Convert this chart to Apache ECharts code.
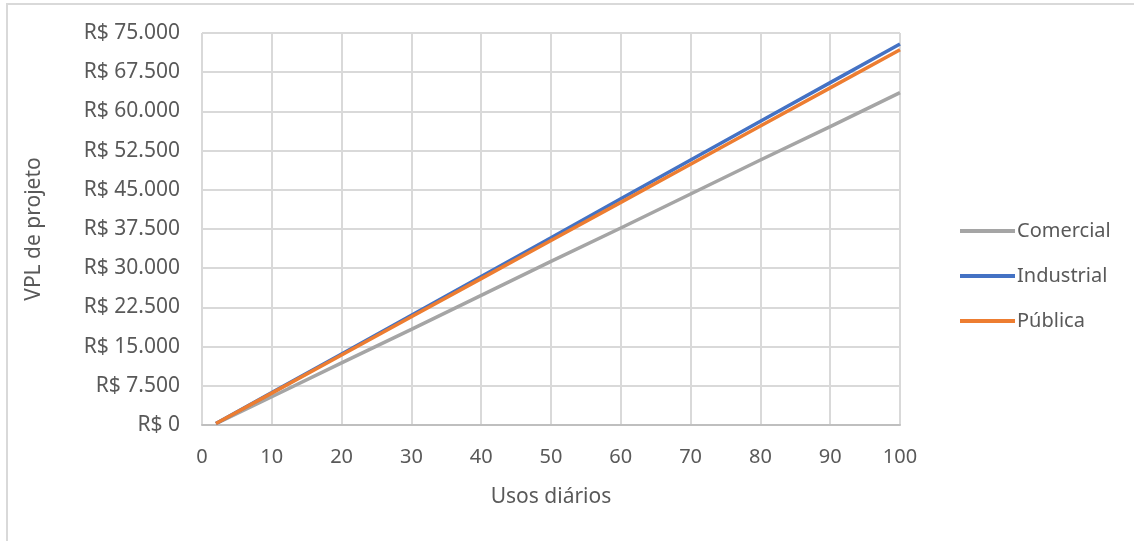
<!DOCTYPE html>
<html>
<head>
<meta charset="utf-8">
<script src="https://cdn.jsdelivr.net/npm/echarts@6/dist/echarts.min.js"></script>
<style>
  html, body { margin: 0; padding: 0; background: #fff; }
  #chart { width: 1134px; height: 541px; }
</style>
</head>
<body>
<div id="chart"></div>
<script>
// Daily uses (x) and project NPV in R$ (y) for each segment
const usos = [2, 10, 20, 30, 40, 50, 60, 70, 80, 90, 100];
const comercial  = [250, 5400, 11900, 18300, 24800, 31300, 37700, 44200, 50700, 57100, 63600];
const industrial = [300, 6200, 13600, 21000, 28400, 35800, 43300, 50700, 58100, 65500, 72900];
const publica    = [300, 6100, 13400, 20700, 28000, 35300, 42600, 49900, 57200, 64500, 71800];
const seriesNames = ['Comercial', 'Industrial', 'Pública'];
const seriesColors = ['#A5A5A5', '#4472C4', '#ED7D31'];

const FONT = 'Noto Sans';
const TEXT = '#595959';

function brl(v) {
  return 'R$ ' + String(v).replace(/\B(?=(\d{3})+(?!\d))/g, '.');
}

function pairs(ys) { return usos.map((x, i) => [x, ys[i]]); }

const chart = echarts.init(document.getElementById('chart'), null, { renderer: 'canvas' });
chart.setOption({
  animation: false,
  backgroundColor: '#fff',
  textStyle: { fontFamily: FONT },
  graphic: [{
    type: 'rect',
    shape: { x: 7, y: 4, width: 1200, height: 600 },
    style: { fill: 'none', stroke: '#D9D9D9', lineWidth: 2 },
    silent: true
  }],
  grid: { left: 202, right: 234, top: 33, bottom: 116, containLabel: false },
  xAxis: {
    type: 'value', min: 0, max: 100, interval: 10,
    name: 'Usos diários', nameLocation: 'middle', nameGap: 62,
    nameTextStyle: { color: TEXT, fontSize: 21, fontFamily: FONT },
    axisLine: { show: true, lineStyle: { color: '#BFBFBF', width: 2 } },
    axisTick: { show: false },
    axisLabel: { color: TEXT, fontSize: 20, fontFamily: FONT, margin: 22 },
    splitLine: { show: true, lineStyle: { color: '#D9D9D9', width: 2 } }
  },
  yAxis: {
    type: 'value', min: 0, max: 75000, interval: 7500,
    name: 'VPL de projeto', nameLocation: 'middle', nameGap: 157, nameRotate: 90,
    nameTextStyle: { color: TEXT, fontSize: 21, fontFamily: FONT },
    axisLine: { show: false },
    axisTick: { show: false },
    axisLabel: { color: TEXT, fontSize: 21, fontFamily: FONT, margin: 22, formatter: brl },
    splitLine: { show: true, lineStyle: { color: '#D9D9D9', width: 2 } }
  },
  legend: {
    orient: 'vertical', left: 955, top: 216,
    icon: 'rect', itemWidth: 55, itemHeight: 4, itemGap: 25,
    textStyle: { color: TEXT, fontSize: 20, fontFamily: FONT, padding: [0, 0, 0, -3] },
    data: seriesNames
  },
  series: [comercial, industrial, publica].map((ys, i) => ({
    name: seriesNames[i],
    type: 'line',
    data: pairs(ys),
    showSymbol: false,
    symbol: 'none',
    lineStyle: { color: seriesColors[i], width: 3.5 },
    itemStyle: { color: seriesColors[i] }
  }))
});
</script>
</body>
</html>
